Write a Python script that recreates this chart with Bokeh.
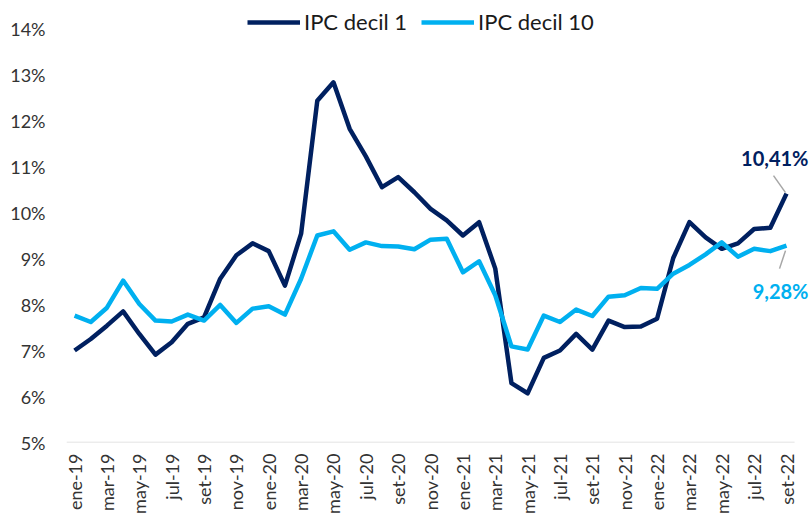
from bokeh.plotting import figure
from bokeh.models import Range1d, FixedTicker, Legend, LegendItem, Label
from bokeh.embed import file_html
from bokeh.resources import INLINE

months = ["ene-19", "feb-19", "mar-19", "abr-19", "may-19", "jun-19", "jul-19", "ago-19", "set-19", "oct-19", "nov-19", "dic-19",
          "ene-20", "feb-20", "mar-20", "abr-20", "may-20", "jun-20", "jul-20", "ago-20", "set-20", "oct-20", "nov-20", "dic-20",
          "ene-21", "feb-21", "mar-21", "abr-21", "may-21", "jun-21", "jul-21", "ago-21", "set-21", "oct-21", "nov-21", "dic-21",
          "ene-22", "feb-22", "mar-22", "abr-22", "may-22", "jun-22", "jul-22", "ago-22", "set-22"]

ipc_decil_1 = [7.00, 7.25, 7.54, 7.85, 7.36, 6.91, 7.18, 7.58, 7.72, 8.56, 9.07, 9.33, 9.16, 8.41, 9.54,
               12.43, 12.83, 11.82, 11.22, 10.55, 10.77, 10.44, 10.08, 9.83, 9.50, 9.79, 8.78, 6.29, 6.07,
               6.84, 7.00, 7.36, 7.02, 7.65, 7.51, 7.52, 7.69, 9.01, 9.79, 9.46, 9.21, 9.33, 9.64, 9.67, 10.41]

ipc_decil_10 = [7.76, 7.62, 7.93, 8.52, 8.01, 7.65, 7.63, 7.78, 7.65, 7.99, 7.60, 7.91, 7.96, 7.78, 8.56,
                9.50, 9.59, 9.19, 9.35, 9.27, 9.26, 9.20, 9.41, 9.43, 8.70, 8.94, 8.20, 7.09, 7.02,
                7.76, 7.62, 7.89, 7.75, 8.17, 8.20, 8.36, 8.34, 8.67, 8.86, 9.09, 9.35, 9.04, 9.21, 9.16, 9.28]

y_ticks = [5, 6, 7, 8, 9, 10, 11, 12, 13, 14]

DARK = "#002060"
LIGHT = "#00B0F0"
FONT = "Lato"

W, H = 811, 517
LEFT, BOTTOM = 66, 75
n = len(months)
px_per_x = 16.18
px_per_y = 46.0
frame_w = W - LEFT
frame_h = H - BOTTOM
x_start = -0.5
x_end = x_start + frame_w / px_per_x
y_start = 5
y_end = y_start + frame_h / px_per_y

p = figure(width=W, height=H, output_backend="svg", toolbar_location=None,
           x_range=Range1d(x_start, x_end), y_range=Range1d(y_start, y_end),
           min_border_left=LEFT, min_border_right=0, min_border_top=0, min_border_bottom=BOTTOM)
p.outline_line_color = None
p.xgrid.grid_line_color = None
p.ygrid.grid_line_color = None
p.background_fill_color = "white"
p.border_fill_color = "white"

# baseline at 5% spanning the category band
p.segment(x0=[-0.5], y0=[y_ticks[0]], x1=[n - 0.5], y1=[y_ticks[0]], line_color="#D9D9D9", line_width=1.5)

xs = list(range(n))
r1 = p.line(xs, ipc_decil_1, line_color=DARK, line_width=4.5, line_join="round")
r2 = p.line(xs, ipc_decil_10, line_color=LIGHT, line_width=4.5, line_join="round")

# x axis
p.xaxis.ticker = FixedTicker(ticks=list(range(0, n, 2)))
p.xaxis.major_label_overrides = {i: months[i] for i in range(0, n, 2)}
p.xaxis.major_label_orientation = 3.14159265 / 2
p.xaxis.axis_line_color = None
p.xaxis.major_tick_line_color = None
p.xaxis.minor_tick_line_color = None
p.xaxis.major_tick_out = 0
p.xaxis.major_label_standoff = 11
p.xaxis.major_label_text_font = FONT
p.xaxis.major_label_text_font_size = "18px"
p.xaxis.major_label_text_color = "#333333"

# y axis
p.yaxis.ticker = FixedTicker(ticks=y_ticks)
p.yaxis.major_label_overrides = {t: f"{t}%" for t in y_ticks}
p.yaxis.axis_line_color = None
p.yaxis.major_tick_line_color = None
p.yaxis.minor_tick_line_color = None
p.yaxis.major_tick_out = 0
p.yaxis.major_label_standoff = 21
p.yaxis.major_label_text_font = FONT
p.yaxis.major_label_text_font_size = "18px"
p.yaxis.major_label_text_color = "#333333"

legend = Legend(items=[LegendItem(label="IPC decil 1", renderers=[r1]),
                       LegendItem(label="IPC decil 10", renderers=[r2])],
                orientation="horizontal", location=(181, 407),
                border_line_color=None, background_fill_alpha=0,
                padding=0, margin=0, spacing=14, glyph_width=53, glyph_height=20,
                label_standoff=4, label_text_font=FONT, label_text_font_size="22px",
                label_text_color="#1a1a1a")
p.add_layout(legend)

# leader lines
last = n - 1
p.segment(x0=[last - 13 / px_per_x], y0=[ipc_decil_1[-1] + 18 / px_per_y],
          x1=[last - 1 / px_per_x], y1=[ipc_decil_1[-1] + 1 / px_per_y],
          line_color="#A6A6A6", line_width=1.5)
p.segment(x0=[last - 1 / px_per_x], y0=[ipc_decil_10[-1] - 5 / px_per_y],
          x1=[last - 7 / px_per_x], y1=[ipc_decil_10[-1] - 23 / px_per_y],
          line_color="#A6A6A6", line_width=1.5)

fmt = lambda v: f"{v:.2f}".replace(".", ",") + "%"
p.add_layout(Label(x=last, y=ipc_decil_1[-1], text=fmt(ipc_decil_1[-1]), x_offset=22, y_offset=36,
                   text_align="right", text_baseline="middle", text_font=FONT, text_font_style="bold",
                   text_font_size="20px", text_color=DARK))
p.add_layout(Label(x=last, y=ipc_decil_10[-1], text=fmt(ipc_decil_10[-1]), x_offset=22, y_offset=-45,
                   text_align="right", text_baseline="middle", text_font=FONT, text_font_style="bold",
                   text_font_size="20px", text_color=LIGHT))

open("out.html", "w").write(file_html(p, INLINE))
